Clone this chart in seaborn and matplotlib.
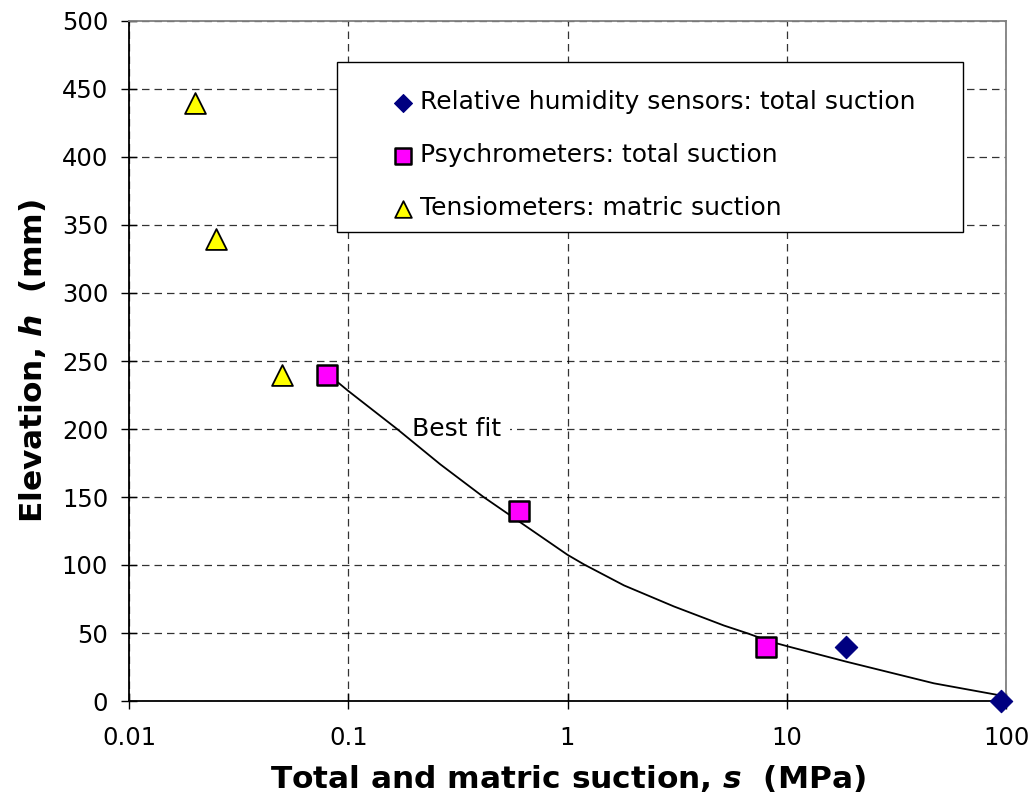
import matplotlib
matplotlib.use("Agg")
import matplotlib.pyplot as plt
from matplotlib.patches import Rectangle
import seaborn as sns
import pandas as pd

# Data
rh_s = [18.6, 95.0]
rh_h = [40, 0]
psy_s = [0.08, 0.6, 8.0]
psy_h = [240, 140, 40]
ten_s = [0.02, 0.025, 0.05]
ten_h = [440, 340, 240]
fit_s = [0.0785, 0.1, 0.167, 0.263, 0.414, 0.589, 1.0, 1.187, 1.81, 3.06, 5.17,
         6.61, 8.45, 10.2, 18.6, 46.9, 95.0]
fit_h = [242, 228, 200, 174, 150, 133, 107.5, 100.5, 85, 69.5, 55.5,
         49.8, 43.6, 40, 29, 13, 4]

labels = ["Relative humidity sensors: total suction",
          "Psychrometers: total suction",
          "Tensiometers: matric suction"]
x_ticks = [0.01, 0.1, 1, 10, 100]
x_ticklabels = ["0.01", "0.1", "1", "10", "100"]
y_ticks = list(range(0, 501, 50))

sns.set_theme(style="white")
plt.rcParams['font.family'] = ['DejaVu Sans']
plt.rcParams['mathtext.fontset'] = 'dejavusans'
plt.rcParams['text.color'] = 'black'
plt.rcParams['axes.labelcolor'] = 'black'
plt.rcParams['xtick.color'] = 'black'
plt.rcParams['ytick.color'] = 'black'

fig = plt.figure(figsize=(10.36, 8.05), dpi=100)
ax = fig.add_axes([129/1036, 104/805, 877/1036, 680/805])

ax.set_xscale("log")
ax.set_xlim(0.01, 100)
ax.set_ylim(0, 500)

ax.grid(True, which="major", color="black", linestyle=(0, (6, 4)), linewidth=0.9, alpha=0.8)
ax.set_axisbelow(True)

fit_df = pd.DataFrame({"s": fit_s, "h": fit_h})
sns.lineplot(data=fit_df, x="s", y="h", sort=False, estimator=None,
             color="black", linewidth=1.3, ax=ax, zorder=3)

rh_df = pd.DataFrame({"s": rh_s, "h": rh_h})
psy_df = pd.DataFrame({"s": psy_s, "h": psy_h})
ten_df = pd.DataFrame({"s": ten_s, "h": ten_h})

sns.scatterplot(data=rh_df, x="s", y="h", marker="D", s=130, color="#000080",
                edgecolor="#000080", linewidth=0.8, ax=ax, zorder=4, label=labels[0],
                clip_on=False)
sns.scatterplot(data=psy_df, x="s", y="h", marker="s", s=205, color="#FF00FF",
                edgecolor="black", linewidth=1.8, ax=ax, zorder=4, label=labels[1],
                clip_on=False)
sns.scatterplot(data=ten_df, x="s", y="h", marker="^", s=225, color="#FFFF00",
                edgecolor="black", linewidth=1.3, ax=ax, zorder=4, label=labels[2],
                clip_on=False)

ax.text(0.196, 200, "Best fit", fontsize=18, ha="left", va="center", zorder=2,
        color="black", bbox=dict(facecolor="white", edgecolor="none", pad=6))

ax.set_xticks(x_ticks)
ax.set_xticklabels(x_ticklabels)
ax.xaxis.set_minor_locator(matplotlib.ticker.NullLocator())
ax.set_yticks(y_ticks)
ax.tick_params(axis="both", which="major", direction="inout", length=12, width=1,
               color="black", labelsize=17.5, labelcolor="black",
               bottom=True, left=True)
ax.tick_params(axis="y", pad=9)
ax.tick_params(axis="x", pad=12)

for side in ["left", "bottom"]:
    ax.spines[side].set_color("black")
    ax.spines[side].set_linewidth(1.3)
for side in ["top", "right"]:
    ax.spines[side].set_color("#808080")
    ax.spines[side].set_linewidth(1.3)

ax.set_xlabel(r"Total and matric suction, $\boldsymbol{s}$  (MPa)", fontsize=22.5,
              fontweight="bold", labelpad=9, color="black")
ax.set_ylabel(r"Elevation, $\boldsymbol{h}$  (mm)", fontsize=22.5, fontweight="bold",
              labelpad=10, color="black")

# legend frame
frame = Rectangle((0.237, 0.69), 0.714, 0.25, transform=ax.transAxes,
                  facecolor="white", edgecolor="black", linewidth=1.0, zorder=5)
ax.add_patch(frame)

leg = ax.legend(loc="upper left", bbox_to_anchor=(0.298, 0.898),
                fontsize=18, frameon=False,
                handletextpad=0.18, labelspacing=1.16, borderpad=0,
                handlelength=1.0, markerscale=0.8, borderaxespad=0)
for t in leg.get_texts():
    t.set_color("black")
leg.set_zorder(6)

fig.savefig("out.png", dpi=100)
